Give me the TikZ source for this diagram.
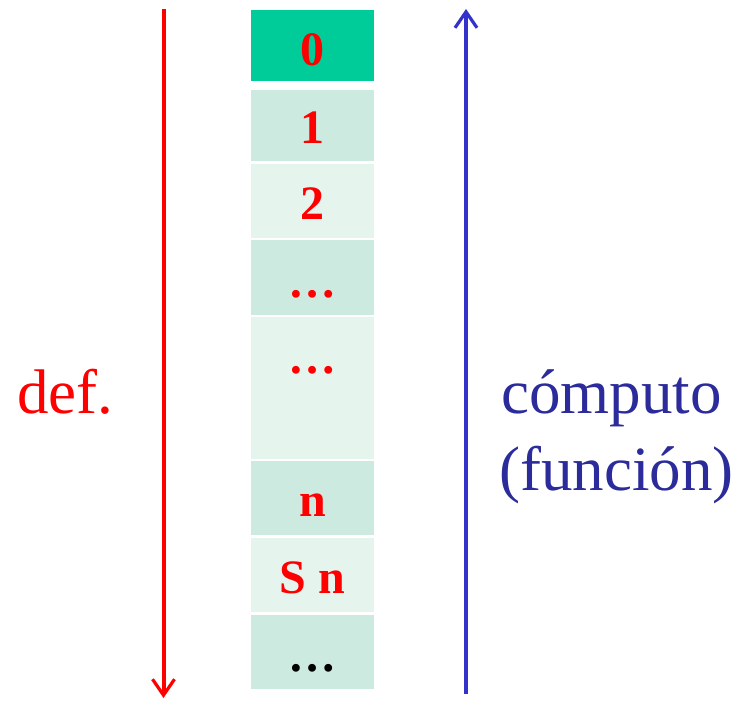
\documentclass[tikz,border=0pt]{standalone}
\usepackage{fontspec}
\setmainfont{Liberation Serif}
\usetikzlibrary{arrows.meta}
\definecolor{dgreen}{RGB}{0,204,153}
\definecolor{mgreen}{RGB}{204,234,223}
\definecolor{lgreen}{RGB}{230,244,238}
\definecolor{ared}{RGB}{255,0,0}
\definecolor{ablue}{RGB}{51,51,204}
\definecolor{tblue}{RGB}{43,43,155}
\tikzset{
  cell/.style={rectangle, draw=none, anchor=north west, minimum width=123pt, inner sep=0pt, outer sep=0pt},
  lbl/.style={anchor=base, inner sep=0pt, text=ared, font=\fontsize{48}{48}\selectfont\bfseries},
  big/.style={anchor=base west, inner sep=0pt, font=\fontsize{63}{76}\selectfont},
  arr/.style={line width=4pt, -{Straight Barb[length=16pt,width=22pt,line width=3.2pt]}}
}
\begin{document}
\begin{tikzpicture}[x=1pt,y=-1pt]
\useasboundingbox (0,0) rectangle (743,701);
% cells
\node[cell, fill=dgreen, minimum height=71pt] (c0) at (251,10) {};
\node[cell, fill=mgreen, minimum height=71pt] (c1) at (251,90) {};
\node[cell, fill=lgreen, minimum height=74pt] (c2) at (251,164) {};
\node[cell, fill=mgreen, minimum height=75pt] (c3) at (251,240) {};
\node[cell, fill=lgreen, minimum height=142pt] (c4) at (251,317) {};
\node[cell, fill=mgreen, minimum height=74pt] (c5) at (251,461) {};
\node[cell, fill=lgreen, minimum height=74pt] (c6) at (251,538) {};
\node[cell, fill=mgreen, minimum height=74pt] (c7) at (251,615) {};
% labels
\node[lbl] (l0) at (312.5,65) {0};
\node[lbl] (l1) at (312.5,143) {1};
\node[lbl] (l2) at (312.5,219) {2};
\node[lbl] (l3) at (312.5,297) {\dots};
\node[lbl] (l4) at (312.5,373) {\dots};
\node[lbl] (l5) at (312.5,516) {n};
\node[lbl] (l6) at (312.5,593) {S n};
\node[lbl, text=black] (l7) at (312.5,671) {\dots};
% arrows
\coordinate (rt) at (163.5,9);
\coordinate (rb) at (163.5,698);
\coordinate (bt) at (466,9);
\coordinate (bb) at (466,694);
\draw[arr, ared] (rt) -- (rb);
\draw[arr, ablue] (bb) -- (bt);
% side texts
\node[big, text=ared] (def) at (17,413) {def.};
\node[big, text=tblue] (comp) at (501,413) {cómputo};
\node[big, text=tblue] (func) at (499,490) {(función)};
\end{tikzpicture}
\end{document}
